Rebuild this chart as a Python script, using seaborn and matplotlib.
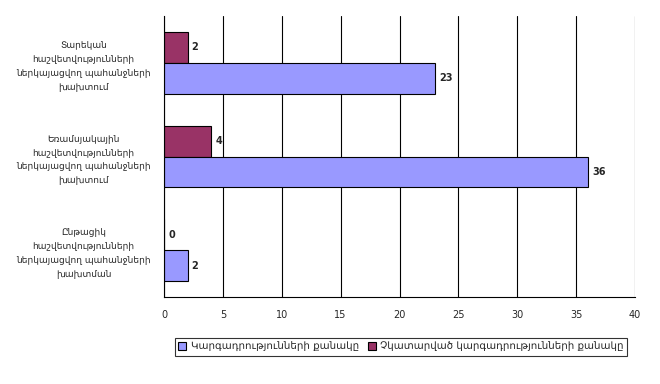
import numpy as np
import pandas as pd
import matplotlib
matplotlib.use("Agg")
import matplotlib.pyplot as plt
import seaborn as sns
from matplotlib.patches import Patch

# data
categories = [
    "Տարեկան\nհաշվետվությունների\nներկայացվող պահանջների\nխախտում",
    "Եռամսյակային\nհաշվետվությունների\nներկայացվող պահանջների\nխախտում",
    "Ընթացիկ\nհաշվետվությունների\nներկայացվող պահանջների\nխախտման",
]
series_names = ["Կարգադրությունների քանակը", "Չկատարված կարգադրությունների քանակը"]
orders = [23, 36, 2]
unfulfilled = [2, 4, 0]
colors = {series_names[0]: "#9999FF", series_names[1]: "#993366"}

df = pd.DataFrame({
    "category": categories * 2,
    "series": [series_names[0]] * 3 + [series_names[1]] * 3,
    "value": orders + unfulfilled,
})

sns.set_style("white")
plt.rcParams['font.family'] = ['DejaVu Sans']

fig = plt.figure(figsize=(6.6, 3.84), dpi=100)
ax = fig.add_axes([164 / 660, (384 - 297) / 384, (635 - 164) / 660, (297 - 16) / 384])

# maroon series drawn first so it sits above the lavender one
sns.barplot(data=df, y="category", x="value", hue="series",
            hue_order=[series_names[1], series_names[0]], order=categories,
            palette=colors, orient="h", width=0.66, edgecolor="black",
            linewidth=0.8, saturation=1, ax=ax, legend=False)

for c in ax.containers:
    ax.bar_label(c, padding=3, fontsize=7, fontweight="bold")

ax.set_xlim(0, 40)
ax.set_xticks(np.arange(0, 41, 5))
ax.xaxis.grid(True, color="black", linewidth=0.8)
ax.set_axisbelow(True)
ax.set_xlabel("")
ax.set_ylabel("")
for s in ["top", "right"]:
    ax.spines[s].set_visible(False)
for s in ["left", "bottom"]:
    ax.spines[s].set_color("black")
    ax.spines[s].set_linewidth(0.8)

ax.tick_params(axis="x", direction="inout", length=6, width=0.8, labelsize=7, pad=6)
ax.tick_params(axis="y", length=0, labelsize=6.5, pad=58)
for lbl in ax.get_yticklabels():
    lbl.set_horizontalalignment("center")
    lbl.set_multialignment("center")
    lbl.set_linespacing(1.7)

# legend: lavender series first, like the original
handles = [Patch(facecolor=colors[n], edgecolor="black", linewidth=0.8) for n in series_names]
leg = fig.legend(handles, series_names, loc="center", bbox_to_anchor=(401 / 660, 1 - 347 / 384),
                 ncol=2, fontsize=7.4, frameon=True, fancybox=False, edgecolor="black",
                 handlelength=0.8, handleheight=0.8, handletextpad=0.4, columnspacing=0.9,
                 borderpad=0.35)
leg.get_frame().set_linewidth(0.8)

fig.savefig("out.png", dpi=100)
